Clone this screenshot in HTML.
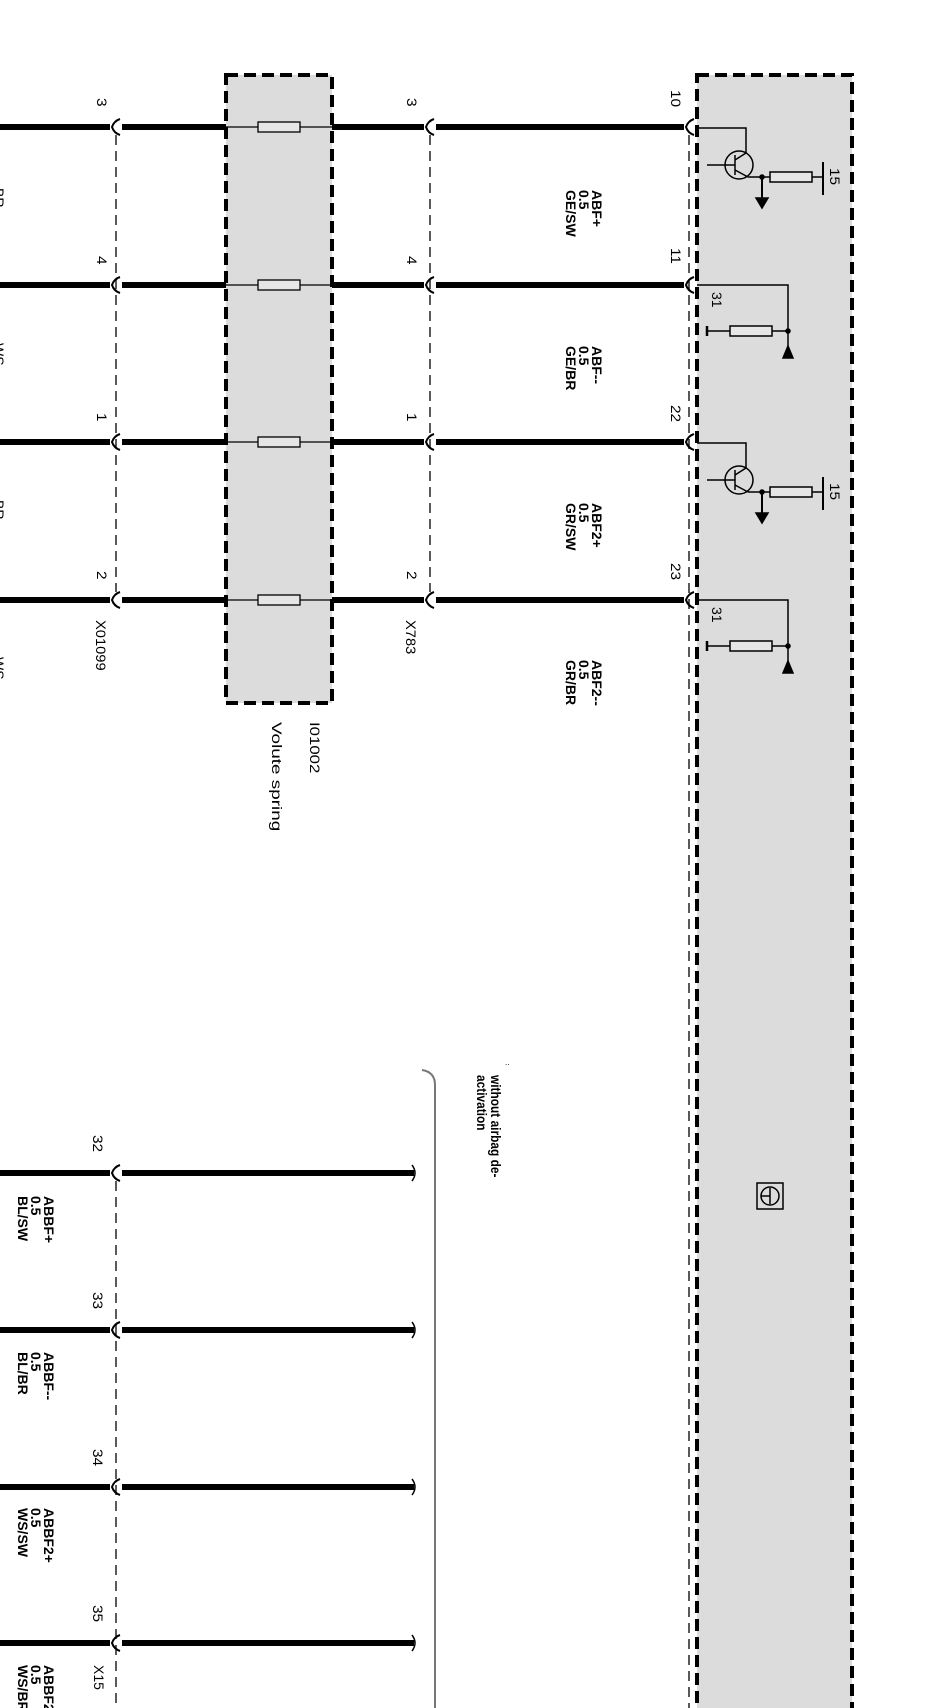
<!DOCTYPE html>
<html><head><meta charset="utf-8"><style>
html,body{margin:0;padding:0;background:#fff}
svg{display:block}
text{font-family:"Liberation Sans",sans-serif;fill:#000}
.b text{font-weight:bold;font-size:14px}
.n text{font-size:14px}
</style></head><body>
<svg width="948" height="1708" viewBox="0 0 948 1708" xmlns="http://www.w3.org/2000/svg">
<defs>
<g id="conn"><path d="M-2,-8 Q-8,-6 -10,0 Q-8,6 -2,8" fill="none" stroke="#000" stroke-width="2"/></g>
</defs>
<rect x="697" y="75" width="155" height="1640" fill="#dcdcdc" stroke="#000" stroke-width="4" stroke-dasharray="12,6"/>
<rect x="226" y="75" width="106" height="628" fill="#dcdcdc" stroke="#000" stroke-width="4" stroke-dasharray="12,6"/>
<g stroke="#000" stroke-width="1.3" stroke-dasharray="10,6" fill="none">
<line x1="116" y1="135" x2="116" y2="592"/>
<line x1="430" y1="135" x2="430" y2="592"/>
<line x1="689" y1="135" x2="689" y2="1708"/>
<line x1="116" y1="1181" x2="116" y2="1708"/>
</g>
<path d="M422,1070 Q435,1072 435,1085 L435,1708" fill="none" stroke="#777" stroke-width="2"/>
<g stroke="#000" stroke-width="6">
<line x1="0" y1="127" x2="110" y2="127"/><line x1="122" y1="127" x2="226" y2="127"/><line x1="332" y1="127" x2="424" y2="127"/><line x1="436" y1="127" x2="684" y2="127"/>
<line x1="0" y1="285" x2="110" y2="285"/><line x1="122" y1="285" x2="226" y2="285"/><line x1="332" y1="285" x2="424" y2="285"/><line x1="436" y1="285" x2="684" y2="285"/>
<line x1="0" y1="442" x2="110" y2="442"/><line x1="122" y1="442" x2="226" y2="442"/><line x1="332" y1="442" x2="424" y2="442"/><line x1="436" y1="442" x2="684" y2="442"/>
<line x1="0" y1="600" x2="110" y2="600"/><line x1="122" y1="600" x2="226" y2="600"/><line x1="332" y1="600" x2="424" y2="600"/><line x1="436" y1="600" x2="684" y2="600"/>
<line x1="0" y1="1173" x2="110" y2="1173"/><line x1="122" y1="1173" x2="414" y2="1173"/>
<line x1="0" y1="1330" x2="110" y2="1330"/><line x1="122" y1="1330" x2="414" y2="1330"/>
<line x1="0" y1="1487" x2="110" y2="1487"/><line x1="122" y1="1487" x2="414" y2="1487"/>
<line x1="0" y1="1643" x2="110" y2="1643"/><line x1="122" y1="1643" x2="414" y2="1643"/>
</g>
<g>
<use href="#conn" x="122" y="127"/><use href="#conn" x="436" y="127"/><use href="#conn" x="696" y="127"/>
<use href="#conn" x="122" y="285"/><use href="#conn" x="436" y="285"/><use href="#conn" x="696" y="285"/>
<use href="#conn" x="122" y="442"/><use href="#conn" x="436" y="442"/><use href="#conn" x="696" y="442"/>
<use href="#conn" x="122" y="600"/><use href="#conn" x="436" y="600"/><use href="#conn" x="696" y="600"/>
<use href="#conn" x="122" y="1173"/><use href="#conn" x="122" y="1330"/><use href="#conn" x="122" y="1487"/><use href="#conn" x="122" y="1643"/>
</g>
<g fill="none" stroke="#000" stroke-width="1.5">
<path d="M412,1165 Q418,1173 412,1181"/><path d="M412,1322 Q418,1330 412,1338"/><path d="M412,1479 Q418,1487 412,1495"/><path d="M412,1635 Q418,1643 412,1651"/>
</g>
<g stroke="#000" stroke-width="1.3" fill="#e6e6e6">
<line x1="226" y1="127" x2="332" y2="127"/><rect x="258" y="122" width="42" height="10"/>
<line x1="226" y1="285" x2="332" y2="285"/><rect x="258" y="280" width="42" height="10"/>
<line x1="226" y1="442" x2="332" y2="442"/><rect x="258" y="437" width="42" height="10"/>
<line x1="226" y1="600" x2="332" y2="600"/><rect x="258" y="595" width="42" height="10"/>
</g>
<g id="tr" stroke="#000" stroke-width="1.5" fill="none">
<path d="M697,128 L746,128 L746,153"/>
<circle cx="739" cy="165" r="14"/>
<line x1="707" y1="165" x2="735" y2="165"/>
<line x1="735" y1="155" x2="735" y2="175"/>
<line x1="735" y1="160" x2="746" y2="153"/>
<line x1="735" y1="170" x2="748" y2="177"/>
<line x1="748" y1="177" x2="770" y2="177"/>
<rect x="770" y="172" width="42" height="10" fill="#e6e6e6"/>
<line x1="812" y1="177" x2="823" y2="177"/>
<line x1="823" y1="162" x2="823" y2="195" stroke-width="2"/>
<line x1="762" y1="177" x2="762" y2="200" stroke-width="2"/>
<path d="M756,198 L768,198 L762,208 Z" fill="#000"/>
<circle cx="762" cy="177" r="2" fill="#000"/>
</g>
<use href="#tr" y="315"/>
<g id="gr" stroke="#000" stroke-width="1.5" fill="none">
<path d="M697,285 L788,285 L788,358"/>
<path d="M783,358 L793,358 L788,346 Z" fill="#000"/>
<line x1="707" y1="331" x2="730" y2="331"/>
<line x1="707" y1="326" x2="707" y2="336" stroke-width="2.5"/>
<rect x="730" y="326" width="42" height="10" fill="#e6e6e6"/>
<line x1="772" y1="331" x2="788" y2="331"/>
<circle cx="788" cy="331" r="2" fill="#000"/>
</g>
<use href="#gr" y="315"/>
<rect x="757" y="1183" width="26" height="26" fill="none" stroke="#000" stroke-width="1.5"/>
<circle cx="770" cy="1196" r="9" fill="none" stroke="#000" stroke-width="1.5"/>
<line x1="770" y1="1188" x2="770" y2="1204" stroke="#000" stroke-width="1.5"/>
<line x1="761" y1="1196" x2="770" y2="1196" stroke="#000" stroke-width="1.5"/>
<g class="n">
<text transform="translate(671,90) rotate(90) scale(1.1,1)">10</text>
<text transform="translate(671,248) rotate(90) scale(1.1,1)">11</text>
<text transform="translate(671,405) rotate(90) scale(1.1,1)">22</text>
<text transform="translate(671,563) rotate(90) scale(1.1,1)">23</text>
<text transform="translate(407,98) rotate(90) scale(1.1,1)">3</text>
<text transform="translate(407,256) rotate(90) scale(1.1,1)">4</text>
<text transform="translate(407,413) rotate(90) scale(1.1,1)">1</text>
<text transform="translate(407,571) rotate(90) scale(1.1,1)">2</text>
<text transform="translate(97,98) rotate(90) scale(1.1,1)">3</text>
<text transform="translate(97,256) rotate(90) scale(1.1,1)">4</text>
<text transform="translate(97,413) rotate(90) scale(1.1,1)">1</text>
<text transform="translate(97,571) rotate(90) scale(1.1,1)">2</text>
<text transform="translate(406,620) rotate(90) scale(1.05,1)">X783</text>
<text transform="translate(96,620) rotate(90) scale(1.05,1)">X01099</text>
<text transform="translate(310,722) rotate(90) scale(1.2,1)">I01002</text>
<text transform="translate(272,722) rotate(90) scale(1.35,1)">Volute spring</text>
<text transform="translate(830,168) rotate(90) scale(1.1,1)">15</text>
<text transform="translate(830,483) rotate(90) scale(1.1,1)">15</text>
<text transform="translate(712,292) rotate(90)">31</text>
<text transform="translate(712,607) rotate(90)">31</text>
<text transform="translate(93,1135) rotate(90) scale(1.1,1)">32</text>
<text transform="translate(93,1292) rotate(90) scale(1.1,1)">33</text>
<text transform="translate(93,1449) rotate(90) scale(1.1,1)">34</text>
<text transform="translate(93,1605) rotate(90) scale(1.1,1)">35</text>
<text transform="translate(94,1665) rotate(90)">X15</text>
<text transform="translate(-6,188) rotate(90)">BR</text>
<text transform="translate(-6,343) rotate(90)">WS</text>
<text transform="translate(-6,500) rotate(90)">BR</text>
<text transform="translate(-6,657) rotate(90)">WS</text>
</g>
<g class="b">
<text transform="translate(592,190) rotate(90)">ABF+</text>
<text transform="translate(579,190) rotate(90)">0.5</text>
<text transform="translate(566,190) rotate(90)">GE/SW</text>
<text transform="translate(592,346) rotate(90)">ABF--</text>
<text transform="translate(579,346) rotate(90)">0.5</text>
<text transform="translate(566,346) rotate(90)">GE/BR</text>
<text transform="translate(592,503) rotate(90)">ABF2+</text>
<text transform="translate(579,503) rotate(90)">0.5</text>
<text transform="translate(566,503) rotate(90)">GR/SW</text>
<text transform="translate(592,660) rotate(90)">ABF2--</text>
<text transform="translate(579,660) rotate(90)">0.5</text>
<text transform="translate(566,660) rotate(90)">GR/BR</text>
<text transform="translate(491,1075) rotate(90) scale(0.85,1)">without airbag de-</text>
<text transform="translate(477,1075) rotate(90) scale(0.85,1)">activation</text>
<text transform="translate(44,1196) rotate(90)">ABBF+</text>
<text transform="translate(31,1196) rotate(90)">0.5</text>
<text transform="translate(18,1196) rotate(90)">BL/SW</text>
<text transform="translate(44,1352) rotate(90)">ABBF--</text>
<text transform="translate(31,1352) rotate(90)">0.5</text>
<text transform="translate(18,1352) rotate(90)">BL/BR</text>
<text transform="translate(44,1508) rotate(90)">ABBF2+</text>
<text transform="translate(31,1508) rotate(90)">0.5</text>
<text transform="translate(18,1508) rotate(90)">WS/SW</text>
<text transform="translate(44,1665) rotate(90)">ABBF2--</text>
<text transform="translate(31,1665) rotate(90)">0.5</text>
<text transform="translate(18,1665) rotate(90)">WS/BR</text>
</g>
<text x="505" y="1065" font-size="8">..</text>
</svg>
</body></html>
